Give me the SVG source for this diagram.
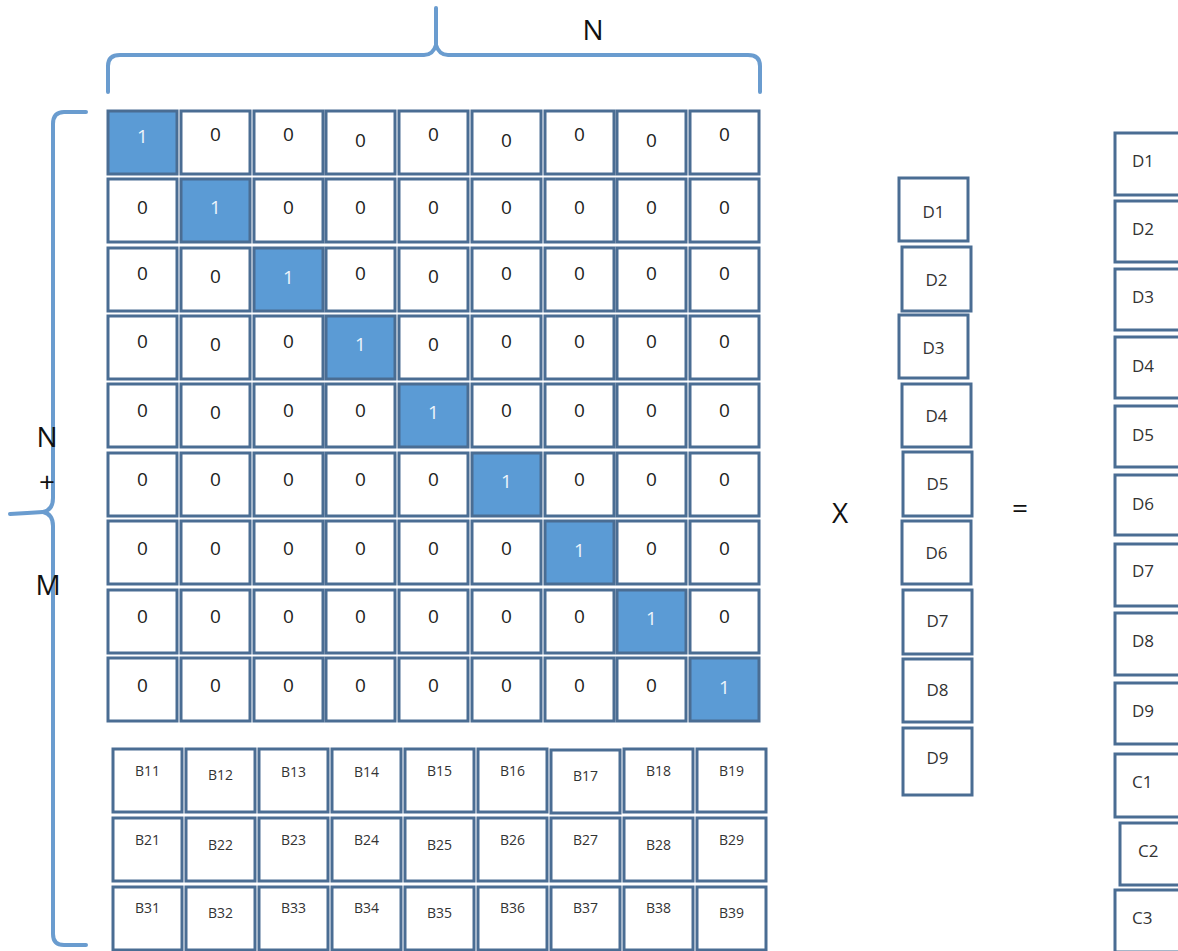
<svg xmlns="http://www.w3.org/2000/svg" width="1178" height="951" viewBox="0 0 1178 951">
<style>
.c{fill:#fff;stroke:#4a6d93;stroke-width:3}
.o{fill:#5b9bd5;stroke:#4a6d93;stroke-width:3}
.t{font-family:"Open Sans","Noto Sans",sans-serif;font-size:19px;fill:#222;text-anchor:middle}
.w{font-family:"Open Sans","Noto Sans",sans-serif;font-size:19px;fill:#eef4fb;text-anchor:middle}
.b{font-family:"Open Sans","Noto Sans",sans-serif;font-size:14px;fill:#333;text-anchor:middle}
.d{font-family:"Open Sans","Noto Sans",sans-serif;font-size:17px;fill:#333;text-anchor:middle}
.r{font-family:"Open Sans","Noto Sans",sans-serif;font-size:17px;fill:#333}
.l{font-family:"Open Sans","Noto Sans",sans-serif;font-size:28px;fill:#111;text-anchor:middle}
.br{fill:none;stroke:#6a9ccf;stroke-width:4;stroke-linecap:round;stroke-linejoin:round}
</style>
<rect width="1178" height="951" fill="#fff"/>
<g id="braces">
<path class="br" d="M108,92 V66 Q108,55 120,55 H424 Q433,55 436,45 Q439,55 448,55 H748 Q760,55 760,66 V92"/>
<path class="br" d="M436,45 V8"/>
<path class="br" d="M86,112 H64 Q53,112 53,124 V498 Q53,510 43,512 Q53,514 53,526 V934 Q53,945 64,945 H86"/>
<path class="br" d="M43,512 Q28,513 10,514"/>
</g>
<g id="labels">
<text class="l" x="593" y="40" font-size="30">N</text>
<text class="l" x="47" y="447">N</text>
<text class="l" x="47" y="492">+</text>
<text class="l" x="48" y="595">M</text>
<text class="l" x="840" y="523">X</text>
<text class="l" x="1020" y="518">=</text>
</g>
<g id="row0">
<g id="a00"><rect class="o" x="108" y="111" width="69" height="63"/><text class="w" x="142.5" y="143">1</text></g>
<g id="a01"><rect class="c" x="181" y="111" width="69" height="63"/><text class="t" x="215.5" y="141">0</text></g>
<g id="a02"><rect class="c" x="254" y="111" width="69" height="63"/><text class="t" x="288.5" y="141">0</text></g>
<g id="a03"><rect class="c" x="326" y="111" width="69" height="63"/><text class="t" x="360.5" y="147">0</text></g>
<g id="a04"><rect class="c" x="399" y="111" width="69" height="63"/><text class="t" x="433.5" y="141">0</text></g>
<g id="a05"><rect class="c" x="472" y="111" width="69" height="63"/><text class="t" x="506.5" y="147">0</text></g>
<g id="a06"><rect class="c" x="545" y="111" width="69" height="63"/><text class="t" x="579.5" y="141">0</text></g>
<g id="a07"><rect class="c" x="617" y="111" width="69" height="63"/><text class="t" x="651.5" y="147">0</text></g>
<g id="a08"><rect class="c" x="690" y="111" width="69" height="63"/><text class="t" x="724.5" y="141">0</text></g>
</g>
<g id="row1">
<g id="a10"><rect class="c" x="108" y="179" width="69" height="63"/><text class="t" x="142.5" y="214">0</text></g>
<g id="a11"><rect class="o" x="181" y="179" width="69" height="63"/><text class="w" x="215.5" y="214">1</text></g>
<g id="a12"><rect class="c" x="254" y="179" width="69" height="63"/><text class="t" x="288.5" y="214">0</text></g>
<g id="a13"><rect class="c" x="326" y="179" width="69" height="63"/><text class="t" x="360.5" y="214">0</text></g>
<g id="a14"><rect class="c" x="399" y="179" width="69" height="63"/><text class="t" x="433.5" y="214">0</text></g>
<g id="a15"><rect class="c" x="472" y="179" width="69" height="63"/><text class="t" x="506.5" y="214">0</text></g>
<g id="a16"><rect class="c" x="545" y="179" width="69" height="63"/><text class="t" x="579.5" y="214">0</text></g>
<g id="a17"><rect class="c" x="617" y="179" width="69" height="63"/><text class="t" x="651.5" y="214">0</text></g>
<g id="a18"><rect class="c" x="690" y="179" width="69" height="63"/><text class="t" x="724.5" y="214">0</text></g>
</g>
<g id="row2">
<g id="a20"><rect class="c" x="108" y="248" width="69" height="63"/><text class="t" x="142.5" y="280">0</text></g>
<g id="a21"><rect class="c" x="181" y="248" width="69" height="63"/><text class="t" x="215.5" y="283">0</text></g>
<g id="a22"><rect class="o" x="254" y="248" width="69" height="63"/><text class="w" x="288.5" y="284">1</text></g>
<g id="a23"><rect class="c" x="326" y="248" width="69" height="63"/><text class="t" x="360.5" y="280">0</text></g>
<g id="a24"><rect class="c" x="399" y="248" width="69" height="63"/><text class="t" x="433.5" y="283">0</text></g>
<g id="a25"><rect class="c" x="472" y="248" width="69" height="63"/><text class="t" x="506.5" y="280">0</text></g>
<g id="a26"><rect class="c" x="545" y="248" width="69" height="63"/><text class="t" x="579.5" y="280">0</text></g>
<g id="a27"><rect class="c" x="617" y="248" width="69" height="63"/><text class="t" x="651.5" y="280">0</text></g>
<g id="a28"><rect class="c" x="690" y="248" width="69" height="63"/><text class="t" x="724.5" y="280">0</text></g>
</g>
<g id="row3">
<g id="a30"><rect class="c" x="108" y="316" width="69" height="63"/><text class="t" x="142.5" y="348">0</text></g>
<g id="a31"><rect class="c" x="181" y="316" width="69" height="63"/><text class="t" x="215.5" y="351">0</text></g>
<g id="a32"><rect class="c" x="254" y="316" width="69" height="63"/><text class="t" x="288.5" y="348">0</text></g>
<g id="a33"><rect class="o" x="326" y="316" width="69" height="63"/><text class="w" x="360.5" y="351">1</text></g>
<g id="a34"><rect class="c" x="399" y="316" width="69" height="63"/><text class="t" x="433.5" y="351">0</text></g>
<g id="a35"><rect class="c" x="472" y="316" width="69" height="63"/><text class="t" x="506.5" y="348">0</text></g>
<g id="a36"><rect class="c" x="545" y="316" width="69" height="63"/><text class="t" x="579.5" y="348">0</text></g>
<g id="a37"><rect class="c" x="617" y="316" width="69" height="63"/><text class="t" x="651.5" y="348">0</text></g>
<g id="a38"><rect class="c" x="690" y="316" width="69" height="63"/><text class="t" x="724.5" y="348">0</text></g>
</g>
<g id="row4">
<g id="a40"><rect class="c" x="108" y="384" width="69" height="63"/><text class="t" x="142.5" y="417">0</text></g>
<g id="a41"><rect class="c" x="181" y="384" width="69" height="63"/><text class="t" x="215.5" y="419">0</text></g>
<g id="a42"><rect class="c" x="254" y="384" width="69" height="63"/><text class="t" x="288.5" y="417">0</text></g>
<g id="a43"><rect class="c" x="326" y="384" width="69" height="63"/><text class="t" x="360.5" y="417">0</text></g>
<g id="a44"><rect class="o" x="399" y="384" width="69" height="63"/><text class="w" x="433.5" y="419">1</text></g>
<g id="a45"><rect class="c" x="472" y="384" width="69" height="63"/><text class="t" x="506.5" y="417">0</text></g>
<g id="a46"><rect class="c" x="545" y="384" width="69" height="63"/><text class="t" x="579.5" y="417">0</text></g>
<g id="a47"><rect class="c" x="617" y="384" width="69" height="63"/><text class="t" x="651.5" y="417">0</text></g>
<g id="a48"><rect class="c" x="690" y="384" width="69" height="63"/><text class="t" x="724.5" y="417">0</text></g>
</g>
<g id="row5">
<g id="a50"><rect class="c" x="108" y="453" width="69" height="63"/><text class="t" x="142.5" y="486">0</text></g>
<g id="a51"><rect class="c" x="181" y="453" width="69" height="63"/><text class="t" x="215.5" y="486">0</text></g>
<g id="a52"><rect class="c" x="254" y="453" width="69" height="63"/><text class="t" x="288.5" y="486">0</text></g>
<g id="a53"><rect class="c" x="326" y="453" width="69" height="63"/><text class="t" x="360.5" y="486">0</text></g>
<g id="a54"><rect class="c" x="399" y="453" width="69" height="63"/><text class="t" x="433.5" y="486">0</text></g>
<g id="a55"><rect class="o" x="472" y="453" width="69" height="63"/><text class="w" x="506.5" y="488">1</text></g>
<g id="a56"><rect class="c" x="545" y="453" width="69" height="63"/><text class="t" x="579.5" y="486">0</text></g>
<g id="a57"><rect class="c" x="617" y="453" width="69" height="63"/><text class="t" x="651.5" y="486">0</text></g>
<g id="a58"><rect class="c" x="690" y="453" width="69" height="63"/><text class="t" x="724.5" y="486">0</text></g>
</g>
<g id="row6">
<g id="a60"><rect class="c" x="108" y="521" width="69" height="63"/><text class="t" x="142.5" y="555">0</text></g>
<g id="a61"><rect class="c" x="181" y="521" width="69" height="63"/><text class="t" x="215.5" y="555">0</text></g>
<g id="a62"><rect class="c" x="254" y="521" width="69" height="63"/><text class="t" x="288.5" y="555">0</text></g>
<g id="a63"><rect class="c" x="326" y="521" width="69" height="63"/><text class="t" x="360.5" y="555">0</text></g>
<g id="a64"><rect class="c" x="399" y="521" width="69" height="63"/><text class="t" x="433.5" y="555">0</text></g>
<g id="a65"><rect class="c" x="472" y="521" width="69" height="63"/><text class="t" x="506.5" y="555">0</text></g>
<g id="a66"><rect class="o" x="545" y="521" width="69" height="63"/><text class="w" x="579.5" y="557">1</text></g>
<g id="a67"><rect class="c" x="617" y="521" width="69" height="63"/><text class="t" x="651.5" y="555">0</text></g>
<g id="a68"><rect class="c" x="690" y="521" width="69" height="63"/><text class="t" x="724.5" y="555">0</text></g>
</g>
<g id="row7">
<g id="a70"><rect class="c" x="108" y="590" width="69" height="63"/><text class="t" x="142.5" y="623">0</text></g>
<g id="a71"><rect class="c" x="181" y="590" width="69" height="63"/><text class="t" x="215.5" y="623">0</text></g>
<g id="a72"><rect class="c" x="254" y="590" width="69" height="63"/><text class="t" x="288.5" y="623">0</text></g>
<g id="a73"><rect class="c" x="326" y="590" width="69" height="63"/><text class="t" x="360.5" y="623">0</text></g>
<g id="a74"><rect class="c" x="399" y="590" width="69" height="63"/><text class="t" x="433.5" y="623">0</text></g>
<g id="a75"><rect class="c" x="472" y="590" width="69" height="63"/><text class="t" x="506.5" y="623">0</text></g>
<g id="a76"><rect class="c" x="545" y="590" width="69" height="63"/><text class="t" x="579.5" y="623">0</text></g>
<g id="a77"><rect class="o" x="617" y="590" width="69" height="63"/><text class="w" x="651.5" y="625">1</text></g>
<g id="a78"><rect class="c" x="690" y="590" width="69" height="63"/><text class="t" x="724.5" y="623">0</text></g>
</g>
<g id="row8">
<g id="a80"><rect class="c" x="108" y="658" width="69" height="63"/><text class="t" x="142.5" y="692">0</text></g>
<g id="a81"><rect class="c" x="181" y="658" width="69" height="63"/><text class="t" x="215.5" y="692">0</text></g>
<g id="a82"><rect class="c" x="254" y="658" width="69" height="63"/><text class="t" x="288.5" y="692">0</text></g>
<g id="a83"><rect class="c" x="326" y="658" width="69" height="63"/><text class="t" x="360.5" y="692">0</text></g>
<g id="a84"><rect class="c" x="399" y="658" width="69" height="63"/><text class="t" x="433.5" y="692">0</text></g>
<g id="a85"><rect class="c" x="472" y="658" width="69" height="63"/><text class="t" x="506.5" y="692">0</text></g>
<g id="a86"><rect class="c" x="545" y="658" width="69" height="63"/><text class="t" x="579.5" y="692">0</text></g>
<g id="a87"><rect class="c" x="617" y="658" width="69" height="63"/><text class="t" x="651.5" y="692">0</text></g>
<g id="a88"><rect class="o" x="690" y="658" width="69" height="63"/><text class="w" x="724.5" y="694">1</text></g>
</g>
<g id="brow1">
<g id="b11"><rect class="c" x="113" y="749" width="69" height="63"/><text class="b" x="147.5" y="776">B11</text></g>
<g id="b12"><rect class="c" x="186" y="749" width="69" height="63"/><text class="b" x="220.5" y="780">B12</text></g>
<g id="b13"><rect class="c" x="259" y="749" width="69" height="63"/><text class="b" x="293.5" y="777">B13</text></g>
<g id="b14"><rect class="c" x="332" y="749" width="69" height="63"/><text class="b" x="366.5" y="777">B14</text></g>
<g id="b15"><rect class="c" x="405" y="749" width="69" height="63"/><text class="b" x="439.5" y="776">B15</text></g>
<g id="b16"><rect class="c" x="478" y="749" width="69" height="63"/><text class="b" x="512.5" y="776">B16</text></g>
<g id="b17"><rect class="c" x="551" y="750" width="69" height="63"/><text class="b" x="585.5" y="781">B17</text></g>
<g id="b18"><rect class="c" x="624" y="749" width="69" height="63"/><text class="b" x="658.5" y="776">B18</text></g>
<g id="b19"><rect class="c" x="697" y="749" width="69" height="63"/><text class="b" x="731.5" y="776">B19</text></g>
</g>
<g id="brow2">
<g id="b21"><rect class="c" x="113" y="818" width="69" height="63"/><text class="b" x="147.5" y="845">B21</text></g>
<g id="b22"><rect class="c" x="186" y="818" width="69" height="63"/><text class="b" x="220.5" y="850">B22</text></g>
<g id="b23"><rect class="c" x="259" y="818" width="69" height="63"/><text class="b" x="293.5" y="845">B23</text></g>
<g id="b24"><rect class="c" x="332" y="818" width="69" height="63"/><text class="b" x="366.5" y="845">B24</text></g>
<g id="b25"><rect class="c" x="405" y="818" width="69" height="63"/><text class="b" x="439.5" y="850">B25</text></g>
<g id="b26"><rect class="c" x="478" y="818" width="69" height="63"/><text class="b" x="512.5" y="845">B26</text></g>
<g id="b27"><rect class="c" x="551" y="818" width="69" height="63"/><text class="b" x="585.5" y="845">B27</text></g>
<g id="b28"><rect class="c" x="624" y="818" width="69" height="63"/><text class="b" x="658.5" y="850">B28</text></g>
<g id="b29"><rect class="c" x="697" y="818" width="69" height="63"/><text class="b" x="731.5" y="845">B29</text></g>
</g>
<g id="brow3">
<g id="b31"><rect class="c" x="113" y="887" width="69" height="63"/><text class="b" x="147.5" y="913">B31</text></g>
<g id="b32"><rect class="c" x="186" y="887" width="69" height="63"/><text class="b" x="220.5" y="918">B32</text></g>
<g id="b33"><rect class="c" x="259" y="887" width="69" height="63"/><text class="b" x="293.5" y="913">B33</text></g>
<g id="b34"><rect class="c" x="332" y="887" width="69" height="63"/><text class="b" x="366.5" y="913">B34</text></g>
<g id="b35"><rect class="c" x="405" y="887" width="69" height="63"/><text class="b" x="439.5" y="918">B35</text></g>
<g id="b36"><rect class="c" x="478" y="887" width="69" height="63"/><text class="b" x="512.5" y="913">B36</text></g>
<g id="b37"><rect class="c" x="551" y="887" width="69" height="63"/><text class="b" x="585.5" y="913">B37</text></g>
<g id="b38"><rect class="c" x="624" y="887" width="69" height="63"/><text class="b" x="658.5" y="913">B38</text></g>
<g id="b39"><rect class="c" x="697" y="887" width="69" height="63"/><text class="b" x="731.5" y="918">B39</text></g>
</g>
<g id="dvec">
<g id="d1"><rect class="c" x="899" y="178" width="69" height="63"/><text class="d" x="933.5" y="218">D1</text></g>
<g id="d2"><rect class="c" x="902" y="247" width="69" height="64"/><text class="d" x="936.5" y="286">D2</text></g>
<g id="d3"><rect class="c" x="899" y="315" width="69" height="63"/><text class="d" x="933.5" y="354">D3</text></g>
<g id="d4"><rect class="c" x="902" y="384" width="69" height="63"/><text class="d" x="936.5" y="422">D4</text></g>
<g id="d5"><rect class="c" x="903" y="452" width="69" height="64"/><text class="d" x="937.5" y="490">D5</text></g>
<g id="d6"><rect class="c" x="902" y="521" width="69" height="63"/><text class="d" x="936.5" y="559">D6</text></g>
<g id="d7"><rect class="c" x="903" y="590" width="69" height="64"/><text class="d" x="937.5" y="627">D7</text></g>
<g id="d8"><rect class="c" x="903" y="659" width="69" height="63"/><text class="d" x="937.5" y="696">D8</text></g>
<g id="d9"><rect class="c" x="903" y="728" width="69" height="67"/><text class="d" x="937.5" y="764">D9</text></g>
</g>
<g id="result">
<g id="r1"><rect class="c" x="1115" y="133" width="90" height="62"/><text class="r" x="1132" y="167">D1</text></g>
<g id="r2"><rect class="c" x="1115" y="201" width="90" height="61"/><text class="r" x="1132" y="235">D2</text></g>
<g id="r3"><rect class="c" x="1115" y="269" width="90" height="61"/><text class="r" x="1132" y="303">D3</text></g>
<g id="r4"><rect class="c" x="1115" y="337" width="90" height="61"/><text class="r" x="1132" y="372">D4</text></g>
<g id="r5"><rect class="c" x="1115" y="406" width="90" height="61"/><text class="r" x="1132" y="441">D5</text></g>
<g id="r6"><rect class="c" x="1115" y="475" width="90" height="60"/><text class="r" x="1132" y="510">D6</text></g>
<g id="r7"><rect class="c" x="1115" y="544" width="90" height="62"/><text class="r" x="1132" y="577">D7</text></g>
<g id="r8"><rect class="c" x="1115" y="613" width="90" height="62"/><text class="r" x="1132" y="647">D8</text></g>
<g id="r9"><rect class="c" x="1115" y="683" width="90" height="61"/><text class="r" x="1132" y="717">D9</text></g>
<g id="r10"><rect class="c" x="1115" y="754" width="90" height="63"/><text class="r" x="1132" y="788">C1</text></g>
<g id="r11"><rect class="c" x="1120" y="823" width="90" height="62"/><text class="r" x="1138" y="857">C2</text></g>
<g id="r12"><rect class="c" x="1115" y="890" width="90" height="62"/><text class="r" x="1132" y="924">C3</text></g>
</g>
</svg>
